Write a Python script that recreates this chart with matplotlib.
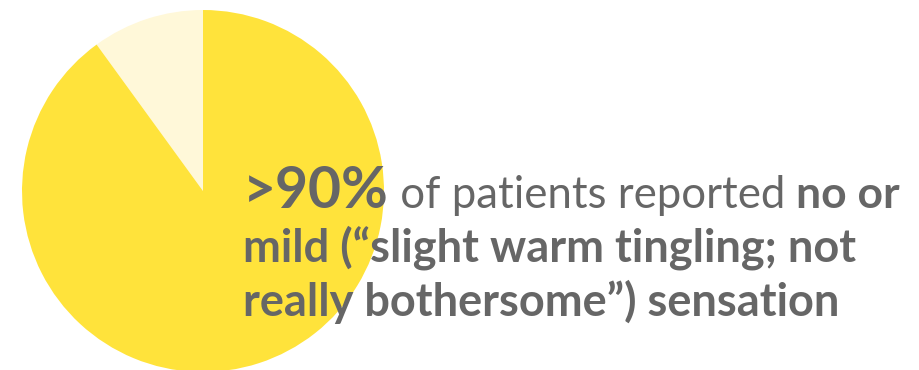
import matplotlib
matplotlib.use("Agg")
import matplotlib.pyplot as plt

# share of patients by sensation reported
labels = ["moderate or worse", "no or mild"]
shares = [10, 90]
colors = ["#FFF8D9", "#FFE33B"]

headline = ">90%"
line1_rest = [(" of patients reported ", "normal"), ("no or", "bold")]
more_lines = ["mild (\u201cslight warm tingling; not", "really bothersome\u201d) sensation"]

text_color = "#666666"
family = ["Lato", "DejaVu Sans"]

fig = plt.figure(figsize=(9.2, 3.7), dpi=100)
ax = fig.add_axes([0, 0, 1, 1])

ax.pie(shares, colors=colors, startangle=90, counterclock=True,
       center=(203, 179), radius=181, frame=True,
       wedgeprops=dict(linewidth=0))
ax.set_xlim(0, 920)
ax.set_ylim(0, 370)
ax.set_aspect("equal")
ax.axis("off")

renderer = fig.canvas.get_renderer()

def put(x, y, s, size, weight):
    t = ax.text(x, y, s, fontsize=size, fontweight=weight, color=text_color,
                family=family, va="baseline", ha="left")
    return x + t.get_window_extent(renderer).width

x0 = 243
x = put(x0, 370 - 208, headline, 41, "bold")
x = put(x, 370 - 208, line1_rest[0][0], 31.5, line1_rest[0][1])
x = put(x, 370 - 208, line1_rest[1][0], 32, line1_rest[1][1])

for i, line in enumerate(more_lines):
    put(x0, 370 - 262 - 54 * i, line, 32.5, "bold")

fig.savefig("out.png", dpi=100)
